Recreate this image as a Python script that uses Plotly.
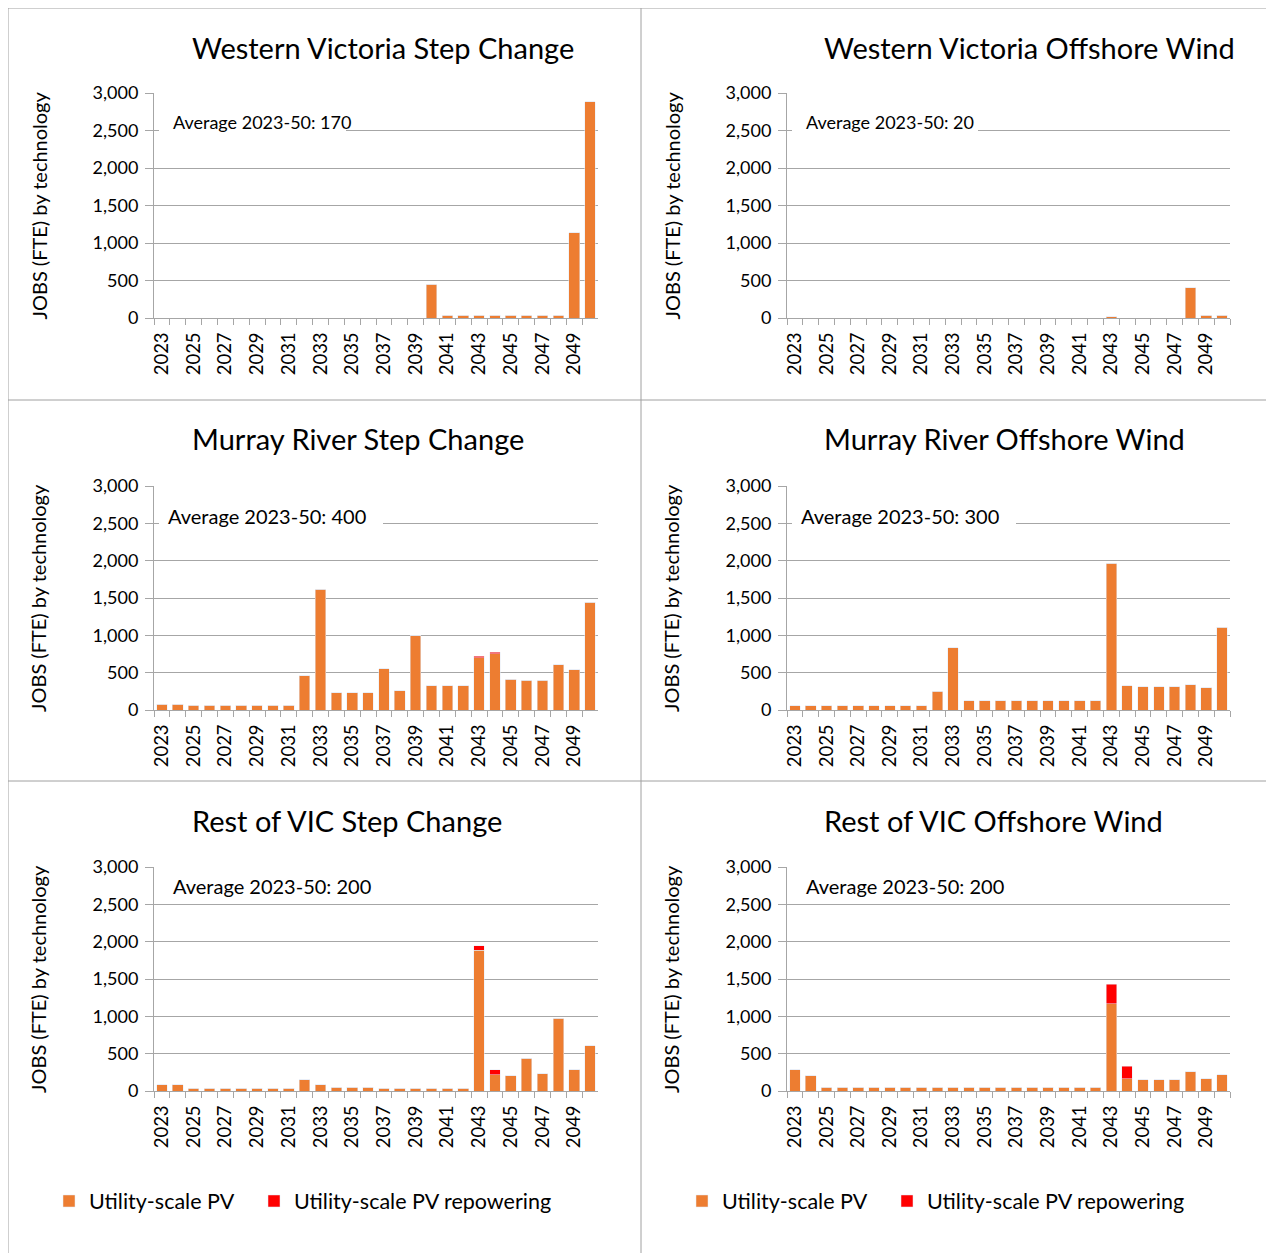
import plotly.graph_objects as go

W, H = 1274, 1253
OFF = 8  # page body margin

years = [str(y) for y in range(2023, 2051)]
year_ticks = [y if i % 2 == 0 else "" for i, y in enumerate(years)]
y_ticks = [0, 500, 1000, 1500, 2000, 2500, 3000]

# Western Victoria
wv_step_pv = [0, 0, 0, 0, 0, 0, 0, 0, 0, 0, 0, 0, 0, 0, 0, 0, 0,
              450, 40, 40, 40, 40, 40, 40, 40, 40, 1135, 2885]
wv_step_rp = [0, 0, 0, 0, 0, 0, 0, 0, 0, 0, 0, 0, 0, 0, 0, 0, 0,
              0, 0, 0, 0, 0, 0, 0, 0, 0, 0, 0]
wv_off_pv = [0, 0, 0, 0, 0, 0, 0, 0, 0, 0, 0, 0, 0, 0, 0, 0, 0, 0, 0, 0,
             20, 0, 0, 0, 0, 405, 40, 40]
wv_off_rp = [0, 0, 0, 0, 0, 0, 0, 0, 0, 0, 0, 0, 0, 0, 0, 0, 0, 0, 0, 0,
             0, 0, 0, 0, 0, 0, 0, 0]

# Murray River
mr_step_pv = [80, 80, 65, 65, 65, 65, 65, 65, 65, 460, 1620, 228, 228, 228,
              550, 255, 997, 326, 326, 326, 700, 755, 411, 398, 398, 604, 536, 1444]
mr_step_rp = [0, 0, 0, 0, 0, 0, 0, 0, 0, 0, 0, 0, 0, 0,
              0, 0, 0, 0, 0, 0, 22, 18, 0, 0, 0, 0, 0, 0]
mr_off_pv = [54, 54, 54, 54, 54, 54, 54, 54, 54, 250, 836, 121, 121, 121,
             121, 121, 121, 121, 121, 121, 1963, 326, 313, 313, 313, 340, 300, 1109]
mr_off_rp = [0, 0, 0, 0, 0, 0, 0, 0, 0, 0, 0, 0, 0, 0,
             0, 0, 0, 0, 0, 0, 0, 0, 0, 0, 0, 0, 0, 0]

# Rest of VIC
rv_step_pv = [85, 85, 36, 36, 36, 36, 36, 36, 36, 152, 85, 49, 49, 49,
              36, 36, 36, 36, 36, 36, 1885, 215, 201, 439, 228, 972, 282, 609]
rv_step_rp = [0, 0, 0, 0, 0, 0, 0, 0, 0, 0, 0, 0, 0, 0,
              0, 0, 0, 0, 0, 0, 63, 67, 0, 0, 0, 0, 0, 0]
rv_off_pv = [282, 201, 49, 49, 49, 49, 49, 49, 49, 49, 49, 49, 49, 49,
             49, 49, 49, 49, 49, 49, 1168, 161, 152, 152, 152, 255, 161, 215]
rv_off_rp = [0, 0, 0, 0, 0, 0, 0, 0, 0, 0, 0, 0, 0, 0,
             0, 0, 0, 0, 0, 0, 260, 170, 0, 0, 0, 0, 0, 0]

titles = ["Western Victoria Step Change", "Western Victoria Offshore Wind",
          "Murray River Step Change", "Murray River Offshore Wind",
          "Rest of VIC Step Change", "Rest of VIC Offshore Wind"]
averages = ["Average 2023-50: 170", "Average 2023-50: 20",
            "Average 2023-50: 400", "Average 2023-50: 300",
            "Average 2023-50: 200", "Average 2023-50: 200"]
pv_series = [wv_step_pv, wv_off_pv, mr_step_pv, mr_off_pv, rv_step_pv, rv_off_pv]
rp_series = [wv_step_rp, wv_off_rp, mr_step_rp, mr_off_rp, rv_step_rp, rv_off_rp]

PV_COLOR = "#ED7D31"
RP_COLOR = "#FF0000"
GRID = "#A6A6A6"
BORDER = "#A0A0A0"
FONT = "Lato"


def fx(x):
    return (x - OFF) / W


def fy(y):
    return 1 - (y - OFF) / H


# pixel layout of each panel (screen coords): plot left/right, plot top/bottom
cols = [(154, 598), (787, 1230)]
rows = [(93, 318), (486, 710), (867, 1091)]
title_y = [47, 439, 820]
title_x = [190, 822]
avg_x = [[171, 804], [166, 799], [171, 804]]
avg_y = [122, 516, 886]
avg_size = [18, 20, 20]
mask_end = [(346, 978), (383, 1016), None]
ylab_x = [38, 671]
# legend names per column: (pv legend, repowering legend)
legend_ids = [("legend", "legend3"), ("legend2", "legend4")]

fig = go.Figure()
annotations = []
shapes = []

for i in range(6):
    r, c = divmod(i, 2)
    ax = "" if i == 0 else str(i + 1)
    x0, x1 = cols[c]
    y0, y1 = rows[r]
    show = r == 2

    fig.add_trace(go.Bar(x=years, y=pv_series[i], name="Utility-scale PV",
                         marker_color=PV_COLOR, xaxis="x" + ax, yaxis="y" + ax,
                         showlegend=show, legend=legend_ids[c][0]))
    fig.add_trace(go.Bar(x=years, y=rp_series[i], name="Utility-scale PV repowering",
                         marker_color=RP_COLOR, xaxis="x" + ax, yaxis="y" + ax,
                         showlegend=show, legend=legend_ids[c][1]))

    fig.update_layout(**{
        "xaxis" + ax: dict(domain=[fx(x0), fx(x1)], anchor="y" + ax, type="category",
                           tickmode="array", tickvals=years, ticktext=year_ticks,
                           tickangle=-90, tickson="boundaries", ticks="outside",
                           ticklen=6, tickcolor=GRID, showline=True, linecolor=GRID,
                           range=[-0.5, 27.5], showgrid=False, automargin=False,
                           ticklabelstandoff=6,
                           tickfont=dict(size=18.5, color="#000")),
        "yaxis" + ax: dict(domain=[fy(y1), fy(y0)], anchor="x" + ax, range=[0, 3000],
                           tickmode="array", tickvals=y_ticks, tickformat=",",
                           ticks="outside", ticklen=8, tickcolor=GRID,
                           showline=True, linecolor=GRID, showgrid=True,
                           gridcolor=GRID, zeroline=False, automargin=False,
                           ticklabelstandoff=3,
                           tickfont=dict(size=18, color="#000")),
    })

    annotations.append(dict(text=titles[i], x=fx(title_x[c]), y=fy(title_y[r]),
                            xref="paper", yref="paper", xanchor="left", yanchor="middle",
                            showarrow=False, font=dict(size=29, color="#000")))
    annotations.append(dict(text="JOBS (FTE) by technology", x=fx(ylab_x[c]),
                            y=fy((y0 + y1) / 2), xref="paper", yref="paper",
                            xanchor="center", yanchor="middle",
                            textangle=-90, showarrow=False,
                            font=dict(size=20, color="#000")))
    annotations.append(dict(text=averages[i], x=fx(avg_x[r][c]), y=fy(avg_y[r]),
                            xref="paper", yref="paper", xanchor="left", yanchor="middle",
                            showarrow=False, font=dict(size=avg_size[r], color="#000")))
    if mask_end[r]:
        gy = y0 + (y1 - y0) / 6
        shapes.append(dict(type="rect", xref="paper", yref="paper", layer="above",
                           x0=fx(x0 + 5), x1=fx(mask_end[r][c]),
                           y0=fy(gy + 4), y1=fy(gy - 4),
                           fillcolor="white", line=dict(width=0)))

# panel borders
for x in [8, 641, 1273]:
    shapes.append(dict(type="line", xref="paper", yref="paper",
                       x0=fx(x), x1=fx(x), y0=fy(8), y1=fy(1253),
                       line=dict(color=BORDER, width=1)))
for y in [8, 400, 781]:
    shapes.append(dict(type="line", xref="paper", yref="paper",
                       x0=fx(8), x1=fx(1273), y0=fy(y), y1=fy(y),
                       line=dict(color=BORDER, width=1)))

legend_style = dict(orientation="h", yanchor="middle", y=fy(1201), xanchor="left",
                    font=dict(size=21.5, color="#000"), bgcolor="rgba(0,0,0,0)",
                    itemwidth=30)

fig.update_layout(
    width=W, height=H,
    margin=dict(l=0, r=0, t=0, b=0, autoexpand=False),
    paper_bgcolor="white", plot_bgcolor="white",
    font=dict(family=FONT, color="#000"),
    barmode="stack", bargap=0.33,
    annotations=annotations, shapes=shapes,
    legend=dict(x=fx(49), **legend_style),
    legend3=dict(x=fx(254), **legend_style),
    legend2=dict(x=fx(682), **legend_style),
    legend4=dict(x=fx(887), **legend_style),
)

fig.write_html("out.html")
